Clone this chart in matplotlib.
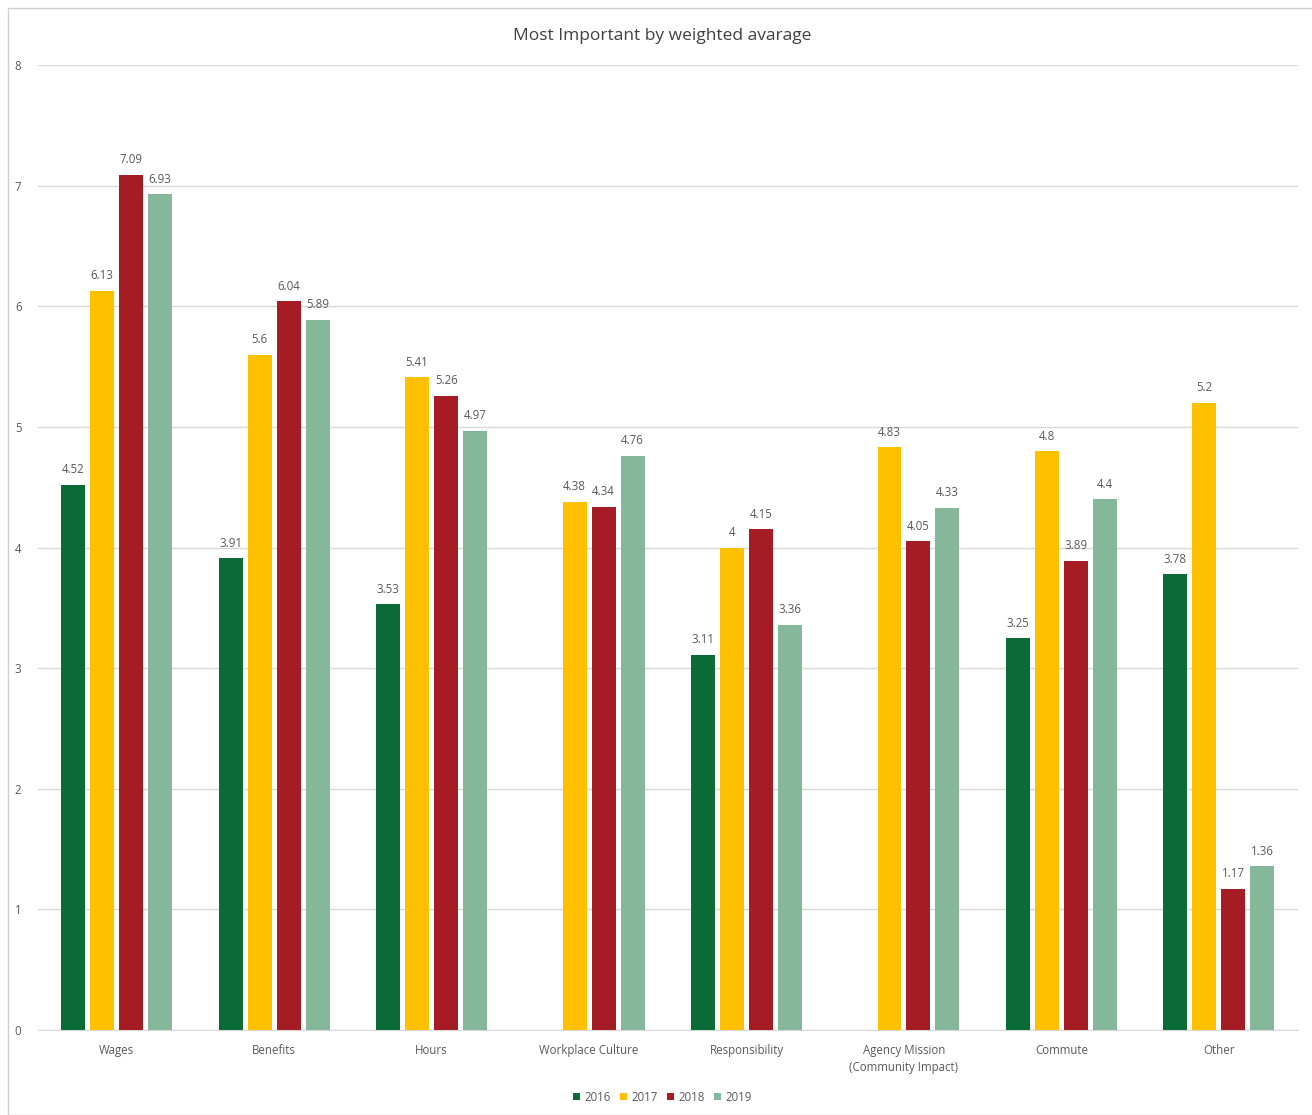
import numpy as np
import matplotlib.pyplot as plt
from matplotlib.patches import Rectangle

categories = ["Wages", "Benefits", "Hours", "Workplace Culture", "Responsibility",
              "Agency Mission\n(Community Impact)", "Commute", "Other"]
years = ["2016", "2017", "2018", "2019"]
v2016 = [4.52, 3.91, 3.53, None, 3.11, None, 3.25, 3.78]
v2017 = [6.13, 5.6, 5.41, 4.38, 4.0, 4.83, 4.8, 5.2]
v2018 = [7.09, 6.04, 5.26, 4.34, 4.15, 4.05, 3.89, 1.17]
v2019 = [6.93, 5.89, 4.97, 4.76, 3.36, 4.33, 4.4, 1.36]
series = [v2016, v2017, v2018, v2019]
colors = ["#0B6B37", "#FFC000", "#A51C24", "#85B79B"]

plt.rcParams['font.family'] = ['Open Sans', 'DejaVu Sans']
text_color = "#595959"

fig = plt.figure(figsize=(13.12, 11.15), dpi=100)
fig.patches.append(Rectangle((8 / 1312, 0), 1 - 8 / 1312 + 0.01, 1 - 8 / 1115,
                             transform=fig.transFigure, fill=False,
                             edgecolor="#D0D0D0", linewidth=1.0))
ax = fig.add_axes([0.029, 0.0762, 0.960, 0.8655])

x = np.arange(len(categories))
step = 0.184
width = 0.152
offsets = (np.arange(4) - 1.5) * step

for vals, col, off, yr in zip(series, colors, offsets, years):
    xs = [xi + off for xi, v in zip(x, vals) if v is not None]
    ys = [v for v in vals if v is not None]
    bars = ax.bar(xs, ys, width=width, color=col, label=yr, zorder=3)
    for b, v in zip(bars, ys):
        ax.text(b.get_x() + b.get_width() / 2, v + 0.07, f"{v:g}",
                ha="center", va="bottom", fontsize=8.3, color=text_color)

ax.set_xlim(-0.5, len(categories) - 0.5)
ax.set_ylim(0, 8)
ax.set_yticks(range(0, 9))
ax.yaxis.grid(True, color="#D9D9D9", linewidth=1.0, zorder=0)
ax.set_axisbelow(True)
for s in ["top", "right", "left"]:
    ax.spines[s].set_visible(False)
ax.spines["bottom"].set_color("#D9D9D9")
ax.tick_params(axis="both", length=0, labelsize=8.3, labelcolor=text_color)
ax.tick_params(axis="y", pad=12)
ax.set_xticks(x)
ax.set_xticklabels(categories, linespacing=1.45)
ax.tick_params(axis="x", pad=10)

fig.text(0.505, 0.968, "Most Important by weighted avarage", ha="center", va="center",
         fontsize=12.5, color="#404040")

fig.legend(loc="center", bbox_to_anchor=(0.505, 0.016), ncol=4, frameon=False,
           fontsize=8.3, labelcolor=text_color, handlelength=0.6, handleheight=0.6,
           handletextpad=0.4, columnspacing=0.8)

fig.savefig("out.png", dpi=100, facecolor="white")
